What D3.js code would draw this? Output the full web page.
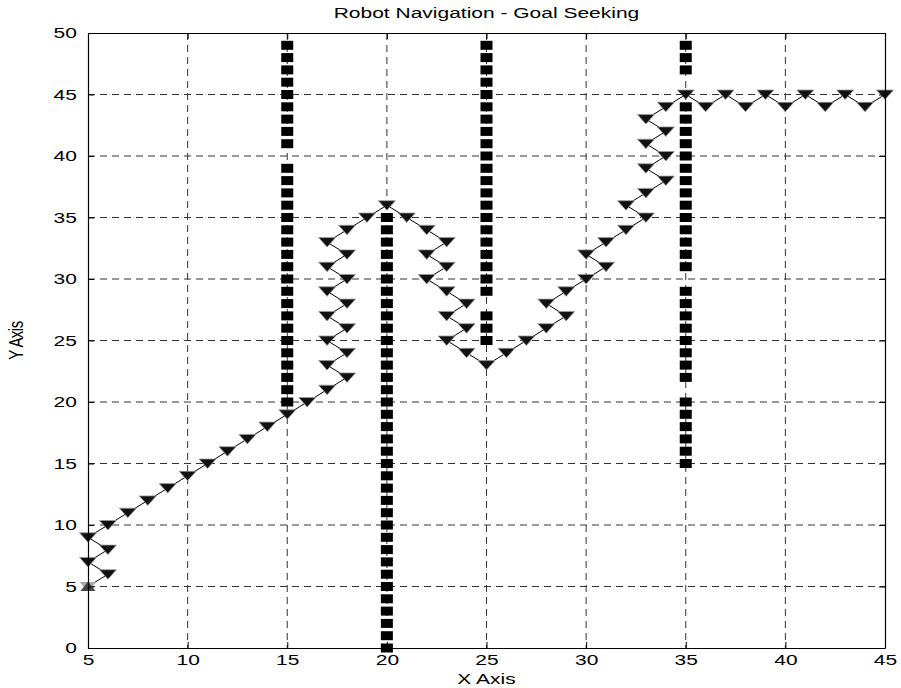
<!DOCTYPE html>
<html>
<head>
<meta charset="utf-8">
<script src="https://cdn.jsdelivr.net/npm/d3@7"></script>
<style>
  body { margin: 0; background: #fff; }
  text { font-family: "Liberation Sans", Arial, sans-serif; fill: #000; }
</style>
</head>
<body>
<div id="chart"></div>
<script>
// Robot path (x, y pairs)
const pathX = [5,6,5,6,5,6,7,8,9,10,11,12,13,14,15,16,17,18,17,18,17,18,17,18,17,18,17,18,17,18,
  19,20,21,22,23,22,23,22,23,24,23,24,23,24,25,26,27,28,29,28,29,30,31,30,31,32,33,32,33,34,33,34,33,34,33,34,
  35,36,37,38,39,40,41,42,43,44,45];
const pathY = [5,6,7,8,9,10,11,12,13,14,15,16,17,18,19,20,21,22,23,24,25,26,27,28,29,30,31,32,33,34,
  35,36,35,34,33,32,31,30,29,28,27,26,25,24,23,24,25,26,27,28,29,30,31,32,33,34,35,36,37,38,39,40,41,42,43,44,
  45,44,45,44,45,44,45,44,45,44,45];

// Obstacle walls: x position and the y cells that are blocked
const wallX = [15, 20, 25, 35];
const wall15 = [20,21,22,23,24,25,26,27,28,29,30,31,32,33,34,35,36,37,38,39,41,42,43,44,45,46,47,48,49];
const wall20 = [0,1,2,3,4,5,6,7,8,9,10,11,12,13,14,15,16,17,18,19,20,21,22,23,24,25,26,27,28,29,30,31,32,33,34,35];
const wall25 = [25,26,27,29,30,31,32,33,34,35,36,37,38,39,40,41,42,43,44,45,46,47,48,49];
const wall35 = [15,16,17,18,19,20,22,23,24,25,26,27,28,29,31,32,33,34,35,36,37,38,39,40,41,42,43,44,47,48,49];

const xTicks = [5,10,15,20,25,30,35,40,45];
const yTicks = [0,5,10,15,20,25,30,35,40,45,50];

const W = 901, H = 688;
const margin = { top: 33, right: 16, bottom: 40, left: 88 };
const width = W - margin.left - margin.right;
const height = H - margin.top - margin.bottom;
const sx = 1.4; // text in the picture is stretched horizontally

const svg = d3.select('#chart').append('svg')
  .attr('width', W)
  .attr('height', H);

const g = svg.append('g')
  .attr('transform', `translate(${margin.left},${margin.top})`);

const x = d3.scaleLinear().domain([5, 45]).range([0, width]);
const y = d3.scaleLinear().domain([0, 50]).range([height, 0]);

// Grid
g.append('g').selectAll('line.vg')
  .data(xTicks.slice(1, -1))
  .enter().append('line')
  .attr('x1', d => x(d)).attr('x2', d => x(d))
  .attr('y1', 0).attr('y2', height)
  .attr('stroke', '#333').attr('stroke-dasharray', '7,5');

g.append('g').selectAll('line.hg')
  .data(yTicks.slice(1, -1))
  .enter().append('line')
  .attr('y1', d => y(d)).attr('y2', d => y(d))
  .attr('x1', 0).attr('x2', width)
  .attr('stroke', '#333').attr('stroke-dasharray', '7,5');

// Obstacles
const walls = [wall15, wall20, wall25, wall35];
walls.forEach((ys, i) => {
  g.append('g').selectAll('rect')
    .data(ys)
    .enter().append('rect')
    .attr('x', x(wallX[i]) - 6)
    .attr('y', d => y(d) - 4.5)
    .attr('width', 12)
    .attr('height', 9)
    .attr('fill', '#000');
});

// Path line
const pts = pathX.map((d, i) => [d, pathY[i]]);
g.append('path')
  .datum(pts)
  .attr('fill', 'none')
  .attr('stroke', '#000')
  .attr('stroke-width', 1)
  .attr('d', d3.line().x(d => x(d[0])).y(d => y(d[1])));

// Down triangle markers
const tri = 'M-8.5,-4.5 L8.5,-4.5 L0,5 Z';
g.append('g').selectAll('path')
  .data(pts.slice(1))
  .enter().append('path')
  .attr('transform', d => `translate(${x(d[0])},${y(d[1])})`)
  .attr('d', tri)
  .attr('fill', '#111')
  .attr('stroke', '#999')
  .attr('stroke-width', 0.8);

// Start marker
g.append('path')
  .attr('transform', `translate(${x(pathX[0])},${y(pathY[0])})`)
  .attr('d', tri)
  .attr('fill', '#aaa');
g.append('path')
  .attr('transform', `translate(${x(pathX[0])},${y(pathY[0])})`)
  .attr('d', 'M-7.5,4.5 L7.5,4.5 L0,-5 Z')
  .attr('fill', '#444');

// Axes
const xAxis = d3.axisBottom(x).tickValues(xTicks).tickSize(-6).tickSizeOuter(0).tickPadding(6);
const yAxis = d3.axisLeft(y).tickValues(yTicks).tickSize(-6).tickSizeOuter(0).tickPadding(8);

const gx = g.append('g').attr('transform', `translate(0,${height})`).call(xAxis);
const gy = g.append('g').call(yAxis);
g.append('g').call(d3.axisTop(x).tickValues(xTicks).tickSize(-6).tickSizeOuter(0).tickFormat(''));
g.append('g').attr('transform', `translate(${width},0)`)
  .call(d3.axisRight(y).tickValues(yTicks).tickSize(-6).tickSizeOuter(0).tickFormat(''));

g.selectAll('.domain').attr('stroke', '#000').attr('stroke-width', 1.2);
g.selectAll('.tick line').attr('stroke', '#000');

[gx, gy].forEach(a => a.selectAll('text')
  .style('font-size', '15px')
  .style('font-family', '"Liberation Sans", Arial, sans-serif')
  .attr('fill', '#000')
  .attr('transform', `scale(${sx},1)`));

// Title and axis labels
svg.append('text')
  .attr('x', (margin.left + width / 2) / sx)
  .attr('y', 18)
  .attr('transform', `scale(${sx},1)`)
  .attr('text-anchor', 'middle')
  .style('font-size', '15px')
  .text('Robot Navigation - Goal Seeking');

svg.append('text')
  .attr('x', (margin.left + width / 2) / sx)
  .attr('y', 684)
  .attr('transform', `scale(${sx},1)`)
  .attr('text-anchor', 'middle')
  .style('font-size', '15px')
  .text('X Axis');

svg.append('text')
  .attr('transform', `translate(23,${margin.top + height / 2}) scale(${sx},1) rotate(-90)`)
  .attr('text-anchor', 'middle')
  .style('font-size', '15px')
  .style('letter-spacing', '-0.5px')
  .text('Y Axis');
</script>
</body>
</html>
